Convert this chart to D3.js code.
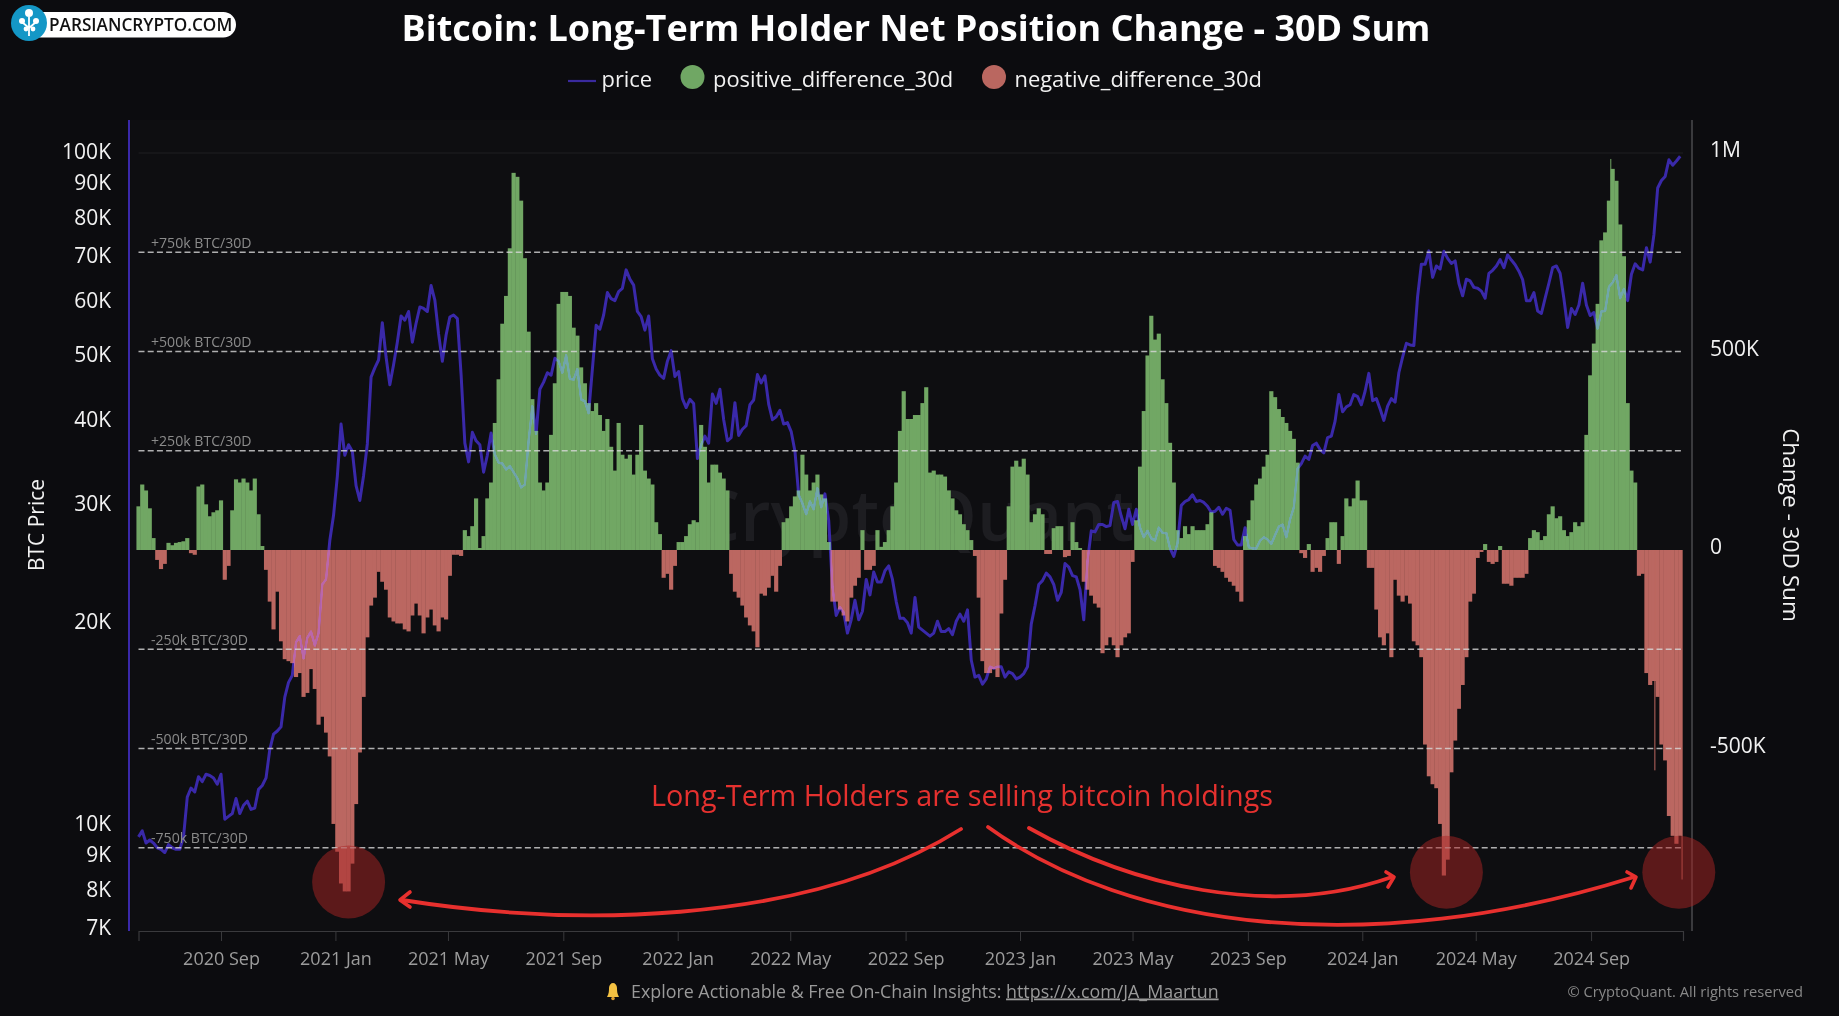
<!DOCTYPE html>
<html><head><meta charset="utf-8">
<script src="https://cdn.jsdelivr.net/npm/d3@7"></script>
<style>
html,body{margin:0;padding:0;background:#0c0c0f;overflow:hidden}
svg{display:block}
text{font-family:"Open Sans",sans-serif}
</style></head><body>
<svg id="c" width="1839" height="1016"></svg>
<script>
const chartTitle = "Bitcoin: Long-Term Holder Net Position Change - 30D Sum";
const stepDays = 4;
const seriesStart = Date.UTC(2020, 5, 5);
const netChangeK = [
110,165,150,105,30,-25,-48,-35,18,12,
18,20,22,30,-8,-12,160,165,115,85,
95,100,125,-75,-40,100,178,170,180,170,
150,180,90,10,-50,-130,-200,-105,-230,-275,
-280,-285,-320,-310,-370,-360,-300,-350,-440,-420,
-460,-520,-690,-760,-840,-860,-860,-790,-640,-510,
-370,-220,-140,-120,-55,-80,-100,-170,-180,-185,
-185,-200,-205,-165,-135,-165,-210,-170,-150,-190,
-205,-170,-175,-65,-12,-12,-15,50,35,60,
130,5,35,130,170,320,430,570,640,760,
950,940,880,735,550,380,300,170,150,170,
290,420,620,650,650,640,560,540,460,420,
370,350,370,340,300,330,260,200,320,240,
230,240,190,240,315,200,180,165,70,40,
-70,-60,-100,-40,20,20,35,65,75,70,
315,260,170,215,215,195,180,150,-60,-105,
-120,-140,-170,-190,-205,-245,-110,-115,-95,-65,
-105,-40,70,80,110,135,150,240,190,150,
170,190,140,130,20,-130,-130,-150,-165,-180,
-120,-90,-70,50,-50,-50,-40,50,8,20,
50,110,170,300,400,330,330,340,340,370,
410,195,200,190,190,185,150,130,100,90,
65,50,25,-15,-120,-280,-310,-310,-300,-320,
-160,-75,110,210,225,210,230,190,70,90,
105,90,-10,-10,55,60,60,-18,-15,70,
20,5,-80,-100,-115,-135,-145,-260,-240,-220,
-240,-270,-240,-220,-210,-30,75,210,350,490,
590,530,545,430,370,270,170,50,30,60,
40,60,50,50,50,65,95,-40,-45,-55,
-70,-80,-90,-105,-130,35,75,125,165,180,
210,240,400,385,355,335,320,300,280,220,
-8,-20,15,-55,-45,-55,-15,30,70,70,
-35,35,130,110,130,175,125,125,-45,-45,
-150,-220,-240,-210,-270,-75,-115,-130,-115,-135,
-230,-240,-270,-490,-570,-590,-600,-690,-820,-780,
-560,-480,-400,-340,-270,-130,-110,-20,-5,15,
-30,-35,-30,10,-85,-85,-90,-70,-70,-70,
-60,30,50,45,25,35,90,110,80,85,
50,35,45,70,60,70,290,440,520,620,
780,800,880,960,930,820,740,370,200,170,
-65,-60,-310,-340,-330,-370,-490,-530,-670,-720,
-740,-720];
const spikeDates = ["2024-09-22","2024-11-08","2024-12-07"];
const spikeValuesK = [985,-555,-830];
const priceK = [
9.6,9.8,9.4,9.5,9.4,9.25,9.2,
9.1,9.35,9.25,9.2,9.2,9.6,11.0,11.35,
11.2,11.8,11.6,11.9,11.85,11.75,11.5,
11.9,10.2,10.3,10.4,10.95,10.4,10.7,10.85,
10.55,10.6,11.3,11.45,11.75,12.95,13.65,13.8,
14.0,15.5,16.3,16.7,18.7,19.1,17.7,
19.0,19.4,18.5,19.3,22.8,23.2,26.5,28.9,
33.0,39.5,35.5,36.8,36.0,32.0,30.4,33.1,
36.9,46.4,47.9,49.2,55.9,49.7,45.2,
48.4,52.3,57.2,56.4,58.1,52.3,55.8,
59.0,58.7,58.1,63.5,60.4,53.8,49.0,53.6,
57.0,57.4,56.7,46.8,37.0,34.7,38.4,37.3,
36.8,33.5,35.5,38.3,35.6,34.6,34.5,
33.8,34.2,33.5,32.8,31.8,32.1,37.3,42.0,
38.2,44.5,45.6,47.1,46.7,49.5,49.0,47.1,
50.0,46.1,46.0,47.7,43.0,42.7,41.0,
47.7,55.4,54.7,57.4,62.0,60.7,60.3,62.2,
62.9,67.0,64.9,63.6,58.1,57.1,54.5,
57.2,49.4,47.7,46.7,46.2,49.0,50.8,46.5,
47.3,43.1,41.8,43.0,42.4,35.1,36.8,37.9,
37.0,43.8,42.4,44.5,40.1,37.3,37.7,
42.5,38.0,38.8,39.3,42.2,42.9,46.8,45.5,
46.6,42.3,40.1,40.5,41.4,39.5,39.7,
38.5,36.0,31.0,30.1,29.0,30.3,29.5,31.7,
29.7,31.1,28.4,22.6,20.5,21.1,20.7,
19.3,20.2,21.6,20.2,20.8,23.2,22.0,23.8,
23.0,23.0,23.9,24.3,23.2,21.5,20.3,20.3,
20.0,19.3,21.8,19.7,19.5,19.3,19.1,
19.3,20.1,19.4,19.4,19.6,19.2,20.1,20.6,
20.1,20.9,17.6,16.6,16.7,16.2,16.5,17.2,
17.1,17.2,17.2,16.6,16.9,16.8,16.5,
16.6,16.8,17.2,19.9,21.2,22.8,23.1,23.7,
23.4,22.8,21.6,22.2,24.5,24.2,23.5,
23.4,22.4,20.2,24.7,27.4,27.3,28.0,28.0,
27.8,27.9,30.2,30.3,28.8,27.6,29.5,
28.0,29.5,27.7,26.8,27.4,26.7,26.5,27.7,
27.2,27.2,25.8,25.1,26.3,29.9,30.3,30.5,
31.0,30.3,30.4,30.2,29.8,29.2,29.3,
29.7,29.0,29.6,29.4,26.6,26.1,26.1,27.7,
25.9,25.8,25.8,26.5,26.8,26.6,26.2,27.0,
27.8,28.0,26.8,28.5,29.7,33.9,34.5,
35.4,35.0,36.7,37.0,36.2,35.8,37.7,37.9,
39.9,43.7,41.2,41.9,42.2,43.7,43.4,42.2,
44.2,47.0,42.8,43.1,41.6,40.0,42.0,
43.1,42.6,47.1,49.7,52.1,51.8,51.7,61.2,
68.3,68.3,71.5,65.3,67.9,67.2,71.4,
69.7,68.5,69.1,64.0,61.3,64.9,64.5,63.1,
62.9,62.3,60.8,66.2,66.9,67.9,69.4,67.5,
70.5,69.3,68.2,66.7,64.8,60.3,60.3,
62.0,58.2,57.7,60.8,64.0,67.5,67.9,66.2,
60.7,55.0,58.7,57.5,59.4,64.0,59.4,57.3,
57.9,54.8,58.1,58.2,63.2,64.2,65.8,
60.8,62.8,60.3,66.0,68.4,67.4,67.0,72.3,
68.8,75.6,88.7,91.0,92.3,97.7,95.9,
97.3,98.9];
const priceTicks = [100000,90000,80000,70000,60000,50000,40000,30000,20000,10000,9000,8000,7000];
const changeTicks = [1000000,500000,0,-500000];
const changeTickLabels = ["1M","500K","0","-500K"];
const refLevels = [750000,500000,250000,-250000,-500000,-750000];
const refLabels = ["+750k BTC/30D","+500k BTC/30D","+250k BTC/30D","-250k BTC/30D","-500k BTC/30D","-750k BTC/30D"];
const timeTicks = ["2020-09-01","2021-01-01","2021-05-01","2021-09-01","2022-01-01","2022-05-01","2022-09-01","2023-01-01","2023-05-01","2023-09-01","2024-01-01","2024-05-01","2024-09-01"];
const legendNames = ["price","positive_difference_30d","negative_difference_30d"];

const GREEN="rgb(113,167,100)", PINK="rgb(187,103,97)", BLUE="#3a29aa";
const svg=d3.select("#c");
const left=138.5,right=1683,axisTop=120,axisBottom=931;

const x=d3.scaleUtc().domain([new Date(seriesStart),new Date(seriesStart+1647*864e5)]).range([left,right]);
const yR=d3.scaleLinear().domain([1000000,0]).range([153,550]);
const yP=d3.scaleLog().domain([100000,10000]).range([153,825]);
const when=i=>new Date(seriesStart+i*stepDays*864e5);
const barW=x(when(1))-x(when(0));

svg.append("rect").attr("x",left-8).attr("y",axisTop).attr("width",right-left+18).attr("height",axisBottom-axisTop).attr("fill","#0e0e11");

// watermark
svg.append("text").attr("x",915).attr("y",541).attr("text-anchor","middle")
  .attr("font-size",70).attr("font-weight",600).attr("fill","#1d1d21").text("CryptoQuant");

// top hairline
svg.append("line").attr("x1",left).attr("x2",right).attr("y1",yR(1000000)).attr("y2",yR(1000000)).attr("stroke","#1e1e22");

// price
svg.append("path").datum(priceK).attr("fill","none").attr("stroke",BLUE).attr("stroke-width",3)
  .attr("stroke-linejoin","round")
  .attr("d",d3.line().x((d,i)=>x(when(i))).y(d=>yP(d*1000)));

// bars
const bars=svg.append("g").style("mix-blend-mode","lighten");
bars.selectAll("rect.b").data(netChangeK).join("rect").attr("class","b")
  .attr("x",(d,i)=>x(when(i))-barW/2-0.2).attr("width",barW+0.4)
  .attr("y",d=>d>0?yR(d*1000):yR(0)).attr("height",d=>Math.abs(yR(d*1000)-yR(0)))
  .attr("fill",d=>d>0?GREEN:PINK);
bars.selectAll("rect.s").data(spikeValuesK).join("rect").attr("class","s")
  .attr("x",(d,i)=>x(new Date(spikeDates[i]))-0.5).attr("width",1)
  .attr("y",d=>d>0?yR(d*1000):yR(0)).attr("height",d=>Math.abs(yR(d*1000)-yR(0)))
  .attr("fill",d=>d>0?GREEN:PINK);

// reference lines
svg.selectAll("line.ref").data(refLevels).join("line").attr("class","ref")
  .attr("x1",left).attr("x2",right).attr("y1",d=>yR(d)).attr("y2",d=>yR(d))
  .attr("stroke","#d8d8d8").attr("stroke-opacity",.8).attr("stroke-width",1.4).attr("stroke-dasharray","6,3.2");
svg.selectAll("text.ref").data(refLabels).join("text").attr("class","ref")
  .attr("x",151).attr("y",(d,i)=>yR(refLevels[i])-4.5).attr("font-size",14.1).attr("fill","#8b8b8b").text(d=>d);

// axes
const axL=svg.append("g").attr("transform",`translate(129,0)`)
  .call(d3.axisLeft(yP).tickValues(priceTicks).tickSize(0).tickPadding(18).tickFormat(d=>d/1000+"K"));
axL.select(".domain").remove();
axL.selectAll("text").attr("font-size",21).attr("fill","#f2f2f2").attr("dy","0.28em").style("font-family",'"Open Sans"');
svg.append("line").attr("x1",129).attr("x2",129).attr("y1",axisTop).attr("y2",axisBottom).attr("stroke",BLUE).attr("stroke-width",2);

const axR=svg.append("g").attr("transform",`translate(1692,0)`)
  .call(d3.axisRight(yR).tickValues(changeTicks).tickSize(0).tickPadding(18).tickFormat((d,i)=>changeTickLabels[i]));
axR.select(".domain").remove();
axR.selectAll("text").attr("font-size",21).attr("fill","#f2f2f2").attr("dy","0.17em").style("font-family",'"Open Sans"');
svg.append("line").attr("x1",1692).attr("x2",1692).attr("y1",axisTop).attr("y2",axisBottom).attr("stroke","#4a4a4d").attr("stroke-width",1.5);

const fmt=d3.utcFormat("%Y %b");
const axB=svg.append("g").attr("transform",`translate(0,${axisBottom})`)
  .call(d3.axisBottom(x).tickValues(timeTicks.map(d=>new Date(d))).tickSize(10).tickPadding(11).tickFormat(fmt));
axB.select(".domain").attr("stroke","#3a3a3d").attr("stroke-width",1.2);
axB.selectAll("line").attr("stroke","#3a3a3d");
axB.selectAll("text").attr("font-size",18).attr("fill","#9c9c9c").style("font-family",'"Open Sans"');

// axis titles
svg.append("text").attr("transform","translate(37,525) rotate(-90)").attr("dy","0.35em").attr("text-anchor","middle").attr("font-size",21).attr("fill","#f2f2f2").text("BTC Price");
svg.append("text").attr("transform","translate(1791,525) rotate(90)").attr("dy","0.35em").attr("text-anchor","middle").attr("font-size",22.6).attr("fill","#f2f2f2").text("Change - 30D Sum");

// title
svg.append("text").attr("x",916).attr("y",41).attr("text-anchor","middle").attr("font-size",36).attr("font-weight",700).attr("fill","#fff").text(chartTitle);

// legend
svg.append("line").attr("x1",568).attr("x2",596).attr("y1",81).attr("y2",81).attr("stroke","#3a2a9e").attr("stroke-width",2.2);
[[601.5,null],[713,"rgb(112,167,100)"],[1014.5,"rgb(186,103,96)"]].forEach((e,i)=>{
  svg.append("text").attr("x",e[0]).attr("y",86.5).attr("font-size",21.9).attr("fill","#f2f2f2").text(legendNames[i]);
  if(e[1]) svg.append("circle").attr("cx",e[0]-20.5).attr("cy",77).attr("r",12).attr("fill",e[1]);
});

// annotation circles
[[348.6,882],[1446.4,872.3],[1678.8,872.3]].forEach(c=>{
  svg.append("circle").attr("cx",c[0]).attr("cy",c[1]).attr("r",36.5).attr("fill","rgb(170,35,35)").attr("fill-opacity",.5);
});
svg.append("text").attr("x",962).attr("y",806).attr("text-anchor","middle").attr("font-size",28.8).attr("fill","#e5312f").text("Long-Term Holders are selling bitcoin holdings");

// hand-drawn arrows
const arrows=[
 {d:"M961,829 C800,930 560,925 402,900",h:[[410,892],[400,900],[410,907]]},
 {d:"M1029,828 C1130,885 1270,920 1392,877",h:[[1386,872],[1394,877],[1388,887]]},
 {d:"M988,827 C1130,930 1370,960 1634,877",h:[[1627,872],[1636,877],[1631,888]]}
];
arrows.forEach(a=>{
  svg.append("path").attr("d",a.d).attr("fill","none").attr("stroke","#e8302e").attr("stroke-width",3.8).attr("stroke-linecap","round");
  svg.append("path").attr("d",d3.line()(a.h)).attr("fill","none").attr("stroke","#e8302e").attr("stroke-width",3.6).attr("stroke-linecap","round").attr("stroke-linejoin","round");
});

// footer
const bell=svg.append("g").attr("transform","translate(613,991)");
bell.append("path").attr("d","M-6,6 C-4,3 -4,-1 -4,-3 C-4,-6 -2,-8 0,-8 C2,-8 4,-6 4,-3 C4,-1 4,3 6,6 Z").attr("fill","#f5c242");
bell.append("circle").attr("cy",7.5).attr("r",1.8).attr("fill","#e0a030");
const foot=svg.append("text").attr("x",631).attr("y",997.5).attr("font-size",17.85).attr("fill","#9a9a9a");
foot.append("tspan").text("Explore Actionable & Free On-Chain Insights: ");
foot.append("tspan").attr("text-decoration","underline").text("https://x.com/JA_Maartun");
svg.append("text").attr("x",1803).attr("y",997).attr("text-anchor","end").attr("font-size",14.7).attr("fill","#888").text("© CryptoQuant. All rights reserved");

// brand badge
svg.append("rect").attr("x",28).attr("y",12).attr("width",208).attr("height",25.5).attr("rx",12.7).attr("fill","#fff");
svg.append("circle").attr("cx",29).attr("cy",23).attr("r",18).attr("fill","#1497c6");
[[29,13,4],[22,21,3],[36,21,3],[26,29,2.4],[33,29,2.4]].forEach(c=>svg.append("circle").attr("cx",c[0]).attr("cy",c[1]).attr("r",c[2]).attr("fill","#fff"));
svg.append("path").attr("d","M29,36 V17 M29,28 L22,22 M29,28 L36,22").attr("stroke","#fff").attr("stroke-width",1.8).attr("fill","none");
svg.append("text").attr("x",49).attr("y",31).attr("font-size",17.2).attr("font-weight",600).attr("fill","#111").text("PARSIANCRYPTO.COM");
</script>
</body></html>
